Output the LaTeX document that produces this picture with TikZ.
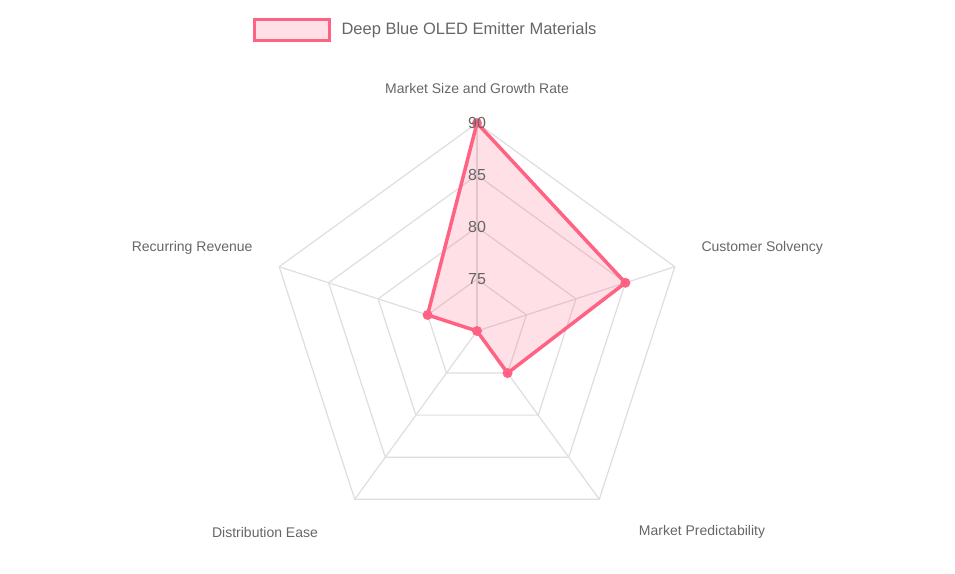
\documentclass[tikz,border=0pt]{standalone}
\usepackage{fontspec}
\setmainfont{Liberation Sans}
\usetikzlibrary{calc}
\definecolor{pk}{RGB}{255,99,132}
\definecolor{gr}{RGB}{222,222,222}
\definecolor{tx}{RGB}{102,102,102}
\begin{document}
\begin{tikzpicture}[x=1pt,y=1pt,
  grid/.style={draw=gr,line width=1.2pt},
  lab/.style={text=tx,font=\fontsize{14}{16}\selectfont},
  tick/.style={text=tx,font=\fontsize{16}{18}\selectfont}]
\useasboundingbox (0,0) rectangle (955,-573);
\coordinate (c) at (477,-331);
% grid rings
\foreach \r in {52,104,156,208}{
  \draw[grid] ($(c)+(90:\r)$) -- ($(c)+(18:\r)$) -- ($(c)+(-54:\r)$) -- ($(c)+(-126:\r)$) -- ($(c)+(162:\r)$) -- cycle;
}
\foreach \a in {90,18,-54,-126,162}{ \draw[grid] (c) -- ($(c)+(\a:208)$); }
% data
\coordinate (p1) at ($(c)+(90:208)$);
\coordinate (p2) at ($(c)+(18:156)$);
\coordinate (p3) at ($(c)+(-54:52)$);
\coordinate (p4) at (c);
\coordinate (p5) at ($(c)+(162:52)$);
\draw[pk,line width=3.5pt,fill=pk,fill opacity=0.2,line join=round] (p1) -- (p2) -- (p3) -- (p4) -- (p5) -- cycle;
\foreach \p in {p1,p2,p3,p4,p5}{ \fill[pk] (\p) circle (5); }
% ticks
\foreach \v/\r in {75/52,80/104,85/156,90/208}{ \node[tick] (t\v) at ($(c)+(90:\r)$) {\v}; }
% labels
\node[lab] (l1) at (477,-88) {Market Size and Growth Rate};
\node[lab,anchor=west] (l2) at (698,-248) {Customer Solvency};
\node[lab] (l3) at (702,-532) {Market Predictability};
\node[lab] (l4) at (265,-532) {Distribution Ease};
\node[lab,anchor=east] (l5) at (256,-248) {Recurring Revenue};
% legend
\node[draw=pk,line width=3pt,fill=pk!20,minimum width=75,minimum height=21,inner sep=0] (lg) at (291.5,-30) {};
\node[lab,anchor=west,font=\fontsize{16.5}{18}\selectfont] (lt) at (338,-30) {Deep Blue OLED Emitter Materials};
\end{tikzpicture}
\end{document}
